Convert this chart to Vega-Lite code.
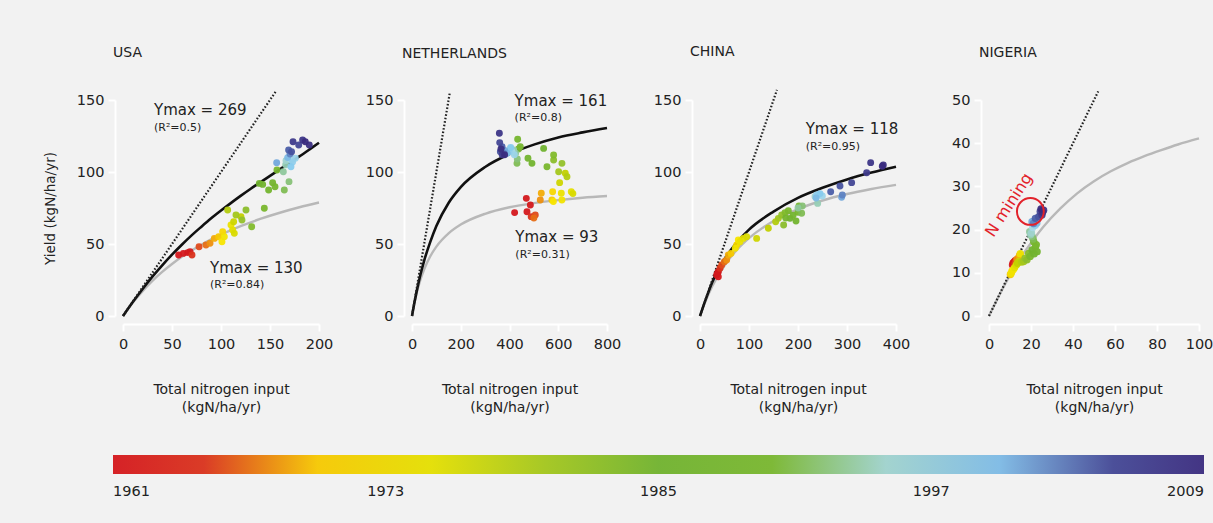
{
 "$schema": "https://vega.github.io/schema/vega-lite/v6.json",
 "background": "#f2f2f2",
 "padding": {"left": 42, "top": 44, "right": 0, "bottom": 30},
 "bounds": "flush",
 "spacing": 93,
 "resolve": {"scale": {"color": "shared", "x": "independent", "y": "independent"}, "legend": {"color": "shared"}},
 "datasets": {
  "d": [
   {"c":"USA","k":"point","year":1961,"n":56.8,"y":42.4},
   {"c":"USA","k":"point","year":1962,"n":61.6,"y":43.5},
   {"c":"USA","k":"point","year":1963,"n":66,"y":44},
   {"c":"USA","k":"point","year":1964,"n":68.4,"y":44.7},
   {"c":"USA","k":"point","year":1965,"n":70.4,"y":42.4},
   {"c":"USA","k":"point","year":1966,"n":77.6,"y":48.1},
   {"c":"USA","k":"point","year":1967,"n":84.7,"y":49.3},
   {"c":"USA","k":"point","year":1968,"n":88.8,"y":50.5},
   {"c":"USA","k":"point","year":1969,"n":93.2,"y":53.9},
   {"c":"USA","k":"point","year":1970,"n":97.6,"y":55},
   {"c":"USA","k":"point","year":1971,"n":101.7,"y":58.6},
   {"c":"USA","k":"point","year":1972,"n":101,"y":51.6},
   {"c":"USA","k":"point","year":1973,"n":103.4,"y":55.1},
   {"c":"USA","k":"point","year":1974,"n":110.2,"y":63.2},
   {"c":"USA","k":"point","year":1975,"n":111.9,"y":59.7},
   {"c":"USA","k":"point","year":1976,"n":113.6,"y":57.4},
   {"c":"USA","k":"point","year":1977,"n":112.9,"y":65.5},
   {"c":"USA","k":"point","year":1978,"n":120.4,"y":69},
   {"c":"USA","k":"point","year":1979,"n":106.8,"y":73.6},
   {"c":"USA","k":"point","year":1980,"n":115.3,"y":70.1},
   {"c":"USA","k":"point","year":1981,"n":121.4,"y":66.7},
   {"c":"USA","k":"point","year":1982,"n":125.5,"y":73.6},
   {"c":"USA","k":"point","year":1983,"n":131.3,"y":62},
   {"c":"USA","k":"point","year":1984,"n":144.2,"y":74.8},
   {"c":"USA","k":"point","year":1985,"n":139.1,"y":92.1},
   {"c":"USA","k":"point","year":1986,"n":142.5,"y":91.4},
   {"c":"USA","k":"point","year":1987,"n":148.6,"y":87.5},
   {"c":"USA","k":"point","year":1988,"n":152.7,"y":92.6},
   {"c":"USA","k":"point","year":1989,"n":155.1,"y":89.8},
   {"c":"USA","k":"point","year":1990,"n":157.1,"y":101.4},
   {"c":"USA","k":"point","year":1991,"n":164.6,"y":87.5},
   {"c":"USA","k":"point","year":1992,"n":169.4,"y":93.3},
   {"c":"USA","k":"point","year":1993,"n":163.6,"y":100.2},
   {"c":"USA","k":"point","year":1994,"n":166,"y":105},
   {"c":"USA","k":"point","year":1995,"n":166.3,"y":107.9},
   {"c":"USA","k":"point","year":1996,"n":171.4,"y":108.3},
   {"c":"USA","k":"point","year":1997,"n":175.9,"y":109.5},
   {"c":"USA","k":"point","year":1998,"n":173,"y":107},
   {"c":"USA","k":"point","year":1999,"n":171.4,"y":103.7},
   {"c":"USA","k":"point","year":2000,"n":168,"y":110},
   {"c":"USA","k":"point","year":2001,"n":156.8,"y":106.5},
   {"c":"USA","k":"point","year":2002,"n":170.4,"y":112.5},
   {"c":"USA","k":"point","year":2003,"n":169,"y":115.3},
   {"c":"USA","k":"point","year":2004,"n":172,"y":114},
   {"c":"USA","k":"point","year":2005,"n":179.3,"y":118.8},
   {"c":"USA","k":"point","year":2006,"n":173.5,"y":121},
   {"c":"USA","k":"point","year":2007,"n":183.3,"y":122.2},
   {"c":"USA","k":"point","year":2008,"n":190.1,"y":118.8},
   {"c":"USA","k":"point","year":2009,"n":186,"y":121},
   {"c":"USA","k":"upper","n":0,"y":0},{"c":"USA","k":"upper","n":10,"y":9.7},{"c":"USA","k":"upper","n":20,"y":18.8},{"c":"USA","k":"upper","n":30,"y":27.3},{"c":"USA","k":"upper","n":40,"y":35.2},{"c":"USA","k":"upper","n":50,"y":42.6},{"c":"USA","k":"upper","n":60,"y":49.5},{"c":"USA","k":"upper","n":70,"y":56},{"c":"USA","k":"upper","n":80,"y":62},{"c":"USA","k":"upper","n":90,"y":67.8},{"c":"USA","k":"upper","n":100,"y":73.2},{"c":"USA","k":"upper","n":110,"y":78.4},{"c":"USA","k":"upper","n":120,"y":83.4},{"c":"USA","k":"upper","n":130,"y":88.2},{"c":"USA","k":"upper","n":140,"y":92.8},{"c":"USA","k":"upper","n":150,"y":97.3},{"c":"USA","k":"upper","n":160,"y":101.8},{"c":"USA","k":"upper","n":170,"y":106.3},{"c":"USA","k":"upper","n":180,"y":110.8},{"c":"USA","k":"upper","n":190,"y":115.5},{"c":"USA","k":"upper","n":200,"y":120.3},
   {"c":"USA","k":"lower","n":0,"y":0},{"c":"USA","k":"lower","n":10,"y":9.3},{"c":"USA","k":"lower","n":20,"y":17.3},{"c":"USA","k":"lower","n":30,"y":24.4},{"c":"USA","k":"lower","n":40,"y":30.6},{"c":"USA","k":"lower","n":50,"y":36.1},{"c":"USA","k":"lower","n":60,"y":41.1},{"c":"USA","k":"lower","n":70,"y":45.5},{"c":"USA","k":"lower","n":80,"y":49.5},{"c":"USA","k":"lower","n":90,"y":53.2},{"c":"USA","k":"lower","n":100,"y":56.5},{"c":"USA","k":"lower","n":120,"y":62.4},{"c":"USA","k":"lower","n":140,"y":67.4},{"c":"USA","k":"lower","n":160,"y":71.7},{"c":"USA","k":"lower","n":180,"y":75.5},{"c":"USA","k":"lower","n":200,"y":78.8},
   {"c":"USA","k":"diag","n":0,"y":0},{"c":"USA","k":"diag","n":156,"y":156},
   {"c":"USA","k":"ymax","n":31.6,"y":139.6,"label":"Ymax = 269"},
   {"c":"USA","k":"r2","n":31.6,"y":128.5,"label":"(R²=0.5)"},
   {"c":"USA","k":"ymax","n":88.8,"y":30.1,"label":"Ymax = 130"},
   {"c":"USA","k":"r2","n":88.8,"y":19.2,"label":"(R²=0.84)"},

   {"c":"NL","k":"point","year":1961,"n":421,"y":71.8},
   {"c":"NL","k":"point","year":1962,"n":471.7,"y":72.4},
   {"c":"NL","k":"point","year":1963,"n":469,"y":81.7},
   {"c":"NL","k":"point","year":1964,"n":485.6,"y":77.1},
   {"c":"NL","k":"point","year":1965,"n":489,"y":69},
   {"c":"NL","k":"point","year":1966,"n":505.8,"y":70.1},
   {"c":"NL","k":"point","year":1967,"n":500,"y":68},
   {"c":"NL","k":"point","year":1968,"n":526.3,"y":80.6},
   {"c":"NL","k":"point","year":1969,"n":530.4,"y":85.2},
   {"c":"NL","k":"point","year":1970,"n":574,"y":80.6},
   {"c":"NL","k":"point","year":1971,"n":577,"y":86.3},
   {"c":"NL","k":"point","year":1972,"n":580,"y":79.5},
   {"c":"NL","k":"point","year":1973,"n":615,"y":80.6},
   {"c":"NL","k":"point","year":1974,"n":612.5,"y":85.2},
   {"c":"NL","k":"point","year":1975,"n":653.5,"y":86.3},
   {"c":"NL","k":"point","year":1976,"n":660,"y":85},
   {"c":"NL","k":"point","year":1977,"n":605.7,"y":92.6},
   {"c":"NL","k":"point","year":1978,"n":628.9,"y":99.1},
   {"c":"NL","k":"point","year":1979,"n":635.8,"y":96.7},
   {"c":"NL","k":"point","year":1980,"n":601.7,"y":100.2},
   {"c":"NL","k":"point","year":1981,"n":615.2,"y":106},
   {"c":"NL","k":"point","year":1982,"n":581,"y":108.3},
   {"c":"NL","k":"point","year":1983,"n":581,"y":111.8},
   {"c":"NL","k":"point","year":1984,"n":553.7,"y":103.7},
   {"c":"NL","k":"point","year":1985,"n":540,"y":116.4},
   {"c":"NL","k":"point","year":1986,"n":492.2,"y":106},
   {"c":"NL","k":"point","year":1987,"n":475.8,"y":109.5},
   {"c":"NL","k":"point","year":1988,"n":444.3,"y":117.6},
   {"c":"NL","k":"point","year":1989,"n":433.5,"y":122.7},
   {"c":"NL","k":"point","year":1990,"n":437,"y":116},
   {"c":"NL","k":"point","year":1991,"n":430.7,"y":106},
   {"c":"NL","k":"point","year":1992,"n":432,"y":109},
   {"c":"NL","k":"point","year":1993,"n":425,"y":113},
   {"c":"NL","k":"point","year":1994,"n":417,"y":115.3},
   {"c":"NL","k":"point","year":1995,"n":403.5,"y":116.4},
   {"c":"NL","k":"point","year":1996,"n":410,"y":114},
   {"c":"NL","k":"point","year":1997,"n":420,"y":112},
   {"c":"NL","k":"point","year":1998,"n":398,"y":114},
   {"c":"NL","k":"point","year":1999,"n":405,"y":117},
   {"c":"NL","k":"point","year":2000,"n":390,"y":113},
   {"c":"NL","k":"point","year":2001,"n":380,"y":115},
   {"c":"NL","k":"point","year":2002,"n":376,"y":113},
   {"c":"NL","k":"point","year":2003,"n":369.4,"y":117.6},
   {"c":"NL","k":"point","year":2004,"n":362.5,"y":114.1},
   {"c":"NL","k":"point","year":2005,"n":359.8,"y":120.4},
   {"c":"NL","k":"point","year":2006,"n":370,"y":112},
   {"c":"NL","k":"point","year":2007,"n":358.4,"y":126.9},
   {"c":"NL","k":"point","year":2008,"n":365,"y":116},
   {"c":"NL","k":"point","year":2009,"n":380,"y":112},
   {"c":"NL","k":"upper","n":0,"y":0},{"c":"NL","k":"upper","n":5,"y":4.8},{"c":"NL","k":"upper","n":10,"y":9.4},{"c":"NL","k":"upper","n":20,"y":17.8},{"c":"NL","k":"upper","n":35,"y":29},{"c":"NL","k":"upper","n":50,"y":38.5},{"c":"NL","k":"upper","n":75,"y":51.5},{"c":"NL","k":"upper","n":100,"y":62.5},{"c":"NL","k":"upper","n":150,"y":78.5},{"c":"NL","k":"upper","n":200,"y":89.5},{"c":"NL","k":"upper","n":300,"y":103.5},{"c":"NL","k":"upper","n":400,"y":112.5},{"c":"NL","k":"upper","n":500,"y":119},{"c":"NL","k":"upper","n":600,"y":124},{"c":"NL","k":"upper","n":700,"y":127.5},{"c":"NL","k":"upper","n":800,"y":130.5},
   {"c":"NL","k":"lower","n":0,"y":0},{"c":"NL","k":"lower","n":5,"y":4.7},{"c":"NL","k":"lower","n":10,"y":9},{"c":"NL","k":"lower","n":20,"y":16.5},{"c":"NL","k":"lower","n":35,"y":25.4},{"c":"NL","k":"lower","n":50,"y":32.5},{"c":"NL","k":"lower","n":75,"y":41.5},{"c":"NL","k":"lower","n":100,"y":48.2},{"c":"NL","k":"lower","n":150,"y":57.4},{"c":"NL","k":"lower","n":200,"y":63.5},{"c":"NL","k":"lower","n":300,"y":71},{"c":"NL","k":"lower","n":400,"y":75.5},{"c":"NL","k":"lower","n":500,"y":78.4},{"c":"NL","k":"lower","n":600,"y":80.5},{"c":"NL","k":"lower","n":700,"y":82.1},{"c":"NL","k":"lower","n":800,"y":83.3},
   {"c":"NL","k":"diag","n":0,"y":0},{"c":"NL","k":"diag","n":155,"y":155},
   {"c":"NL","k":"ymax","n":421,"y":146,"label":"Ymax = 161"},
   {"c":"NL","k":"r2","n":421,"y":135.4,"label":"(R²=0.8)"},
   {"c":"NL","k":"ymax","n":424,"y":51.2,"label":"Ymax = 93"},
   {"c":"NL","k":"r2","n":424,"y":40,"label":"(R²=0.31)"},

   {"c":"CN","k":"point","year":1961,"n":34,"y":28.5},
   {"c":"CN","k":"point","year":1962,"n":37.4,"y":27.3},
   {"c":"CN","k":"point","year":1963,"n":36,"y":30},
   {"c":"CN","k":"point","year":1964,"n":37.4,"y":30.8},
   {"c":"CN","k":"point","year":1965,"n":40.8,"y":33.1},
   {"c":"CN","k":"point","year":1966,"n":44.2,"y":35.4},
   {"c":"CN","k":"point","year":1967,"n":49.7,"y":37.7},
   {"c":"CN","k":"point","year":1968,"n":54.4,"y":38.9},
   {"c":"CN","k":"point","year":1969,"n":57.8,"y":42.4},
   {"c":"CN","k":"point","year":1970,"n":63.3,"y":43.5},
   {"c":"CN","k":"point","year":1971,"n":74.8,"y":49.3},
   {"c":"CN","k":"point","year":1972,"n":78.2,"y":52.8},
   {"c":"CN","k":"point","year":1973,"n":72,"y":47},
   {"c":"CN","k":"point","year":1974,"n":81.6,"y":51.6},
   {"c":"CN","k":"point","year":1975,"n":88.4,"y":53.9},
   {"c":"CN","k":"point","year":1976,"n":95.2,"y":55.1},
   {"c":"CN","k":"point","year":1977,"n":115.6,"y":53.9},
   {"c":"CN","k":"point","year":1978,"n":139.5,"y":60.9},
   {"c":"CN","k":"point","year":1979,"n":154.4,"y":65.5},
   {"c":"CN","k":"point","year":1980,"n":159.9,"y":67.8},
   {"c":"CN","k":"point","year":1981,"n":166.7,"y":70.1},
   {"c":"CN","k":"point","year":1982,"n":170.7,"y":63.2},
   {"c":"CN","k":"point","year":1983,"n":173.5,"y":71.8},
   {"c":"CN","k":"point","year":1984,"n":180.3,"y":73.1},
   {"c":"CN","k":"point","year":1985,"n":183.7,"y":67.8},
   {"c":"CN","k":"point","year":1986,"n":195.9,"y":66},
   {"c":"CN","k":"point","year":1987,"n":190,"y":70},
   {"c":"CN","k":"point","year":1988,"n":175,"y":68},
   {"c":"CN","k":"point","year":1989,"n":200,"y":72},
   {"c":"CN","k":"point","year":1990,"n":202,"y":76.4},
   {"c":"CN","k":"point","year":1991,"n":207.5,"y":71.3},
   {"c":"CN","k":"point","year":1992,"n":208.8,"y":76.4},
   {"c":"CN","k":"point","year":1993,"n":200,"y":75},
   {"c":"CN","k":"point","year":1994,"n":240.1,"y":78.2},
   {"c":"CN","k":"point","year":1995,"n":234.7,"y":82.9},
   {"c":"CN","k":"point","year":1996,"n":241.5,"y":84},
   {"c":"CN","k":"point","year":1997,"n":249.7,"y":83.3},
   {"c":"CN","k":"point","year":1998,"n":238,"y":84},
   {"c":"CN","k":"point","year":1999,"n":245,"y":85},
   {"c":"CN","k":"point","year":2000,"n":237,"y":82},
   {"c":"CN","k":"point","year":2001,"n":289,"y":82.4},
   {"c":"CN","k":"point","year":2002,"n":290.5,"y":84},
   {"c":"CN","k":"point","year":2003,"n":266.7,"y":86.3},
   {"c":"CN","k":"point","year":2004,"n":285.7,"y":90.3},
   {"c":"CN","k":"point","year":2005,"n":309.5,"y":92.6},
   {"c":"CN","k":"point","year":2006,"n":340.1,"y":99.5},
   {"c":"CN","k":"point","year":2007,"n":348.3,"y":106.5},
   {"c":"CN","k":"point","year":2008,"n":374.1,"y":104.9},
   {"c":"CN","k":"point","year":2009,"n":372,"y":104},
   {"c":"CN","k":"upper","n":0,"y":0},{"c":"CN","k":"upper","n":10,"y":10},{"c":"CN","k":"upper","n":25,"y":23.5},{"c":"CN","k":"upper","n":50,"y":39.5},{"c":"CN","k":"upper","n":75,"y":51},{"c":"CN","k":"upper","n":100,"y":60},{"c":"CN","k":"upper","n":150,"y":72.5},{"c":"CN","k":"upper","n":200,"y":82},{"c":"CN","k":"upper","n":250,"y":89},{"c":"CN","k":"upper","n":300,"y":94.8},{"c":"CN","k":"upper","n":350,"y":99.6},{"c":"CN","k":"upper","n":400,"y":103.7},
   {"c":"CN","k":"lower","n":0,"y":0},{"c":"CN","k":"lower","n":10,"y":9.2},{"c":"CN","k":"lower","n":25,"y":20.6},{"c":"CN","k":"lower","n":50,"y":35.1},{"c":"CN","k":"lower","n":75,"y":45.9},{"c":"CN","k":"lower","n":100,"y":54.1},{"c":"CN","k":"lower","n":150,"y":66},{"c":"CN","k":"lower","n":200,"y":74.2},{"c":"CN","k":"lower","n":250,"y":80.2},{"c":"CN","k":"lower","n":300,"y":84.7},{"c":"CN","k":"lower","n":350,"y":88.2},{"c":"CN","k":"lower","n":400,"y":91.1},
   {"c":"CN","k":"diag","n":0,"y":0},{"c":"CN","k":"diag","n":157,"y":157},
   {"c":"CN","k":"ymax","n":215.7,"y":126.4,"label":"Ymax = 118"},
   {"c":"CN","k":"r2","n":215.7,"y":115.3,"label":"(R²=0.95)"},

   {"c":"NG","k":"point","year":1961,"n":11.5,"y":12.3},
   {"c":"NG","k":"point","year":1962,"n":12,"y":12.5},
   {"c":"NG","k":"point","year":1963,"n":11.2,"y":11.8},
   {"c":"NG","k":"point","year":1964,"n":12.5,"y":12.8},
   {"c":"NG","k":"point","year":1965,"n":12.2,"y":12},
   {"c":"NG","k":"point","year":1966,"n":12.8,"y":12.5},
   {"c":"NG","k":"point","year":1967,"n":13.2,"y":13},
   {"c":"NG","k":"point","year":1968,"n":13.5,"y":13.2},
   {"c":"NG","k":"point","year":1969,"n":14.5,"y":14},
   {"c":"NG","k":"point","year":1970,"n":10.2,"y":9.6},
   {"c":"NG","k":"point","year":1971,"n":11,"y":10.4},
   {"c":"NG","k":"point","year":1972,"n":11.7,"y":10.8},
   {"c":"NG","k":"point","year":1973,"n":10.6,"y":9.9},
   {"c":"NG","k":"point","year":1974,"n":14.9,"y":14.4},
   {"c":"NG","k":"point","year":1975,"n":12.2,"y":11.2},
   {"c":"NG","k":"point","year":1976,"n":13,"y":11.8},
   {"c":"NG","k":"point","year":1977,"n":14.1,"y":12.6},
   {"c":"NG","k":"point","year":1978,"n":13.6,"y":12.2},
   {"c":"NG","k":"point","year":1979,"n":15.5,"y":12.5},
   {"c":"NG","k":"point","year":1980,"n":16.5,"y":12.6},
   {"c":"NG","k":"point","year":1981,"n":17.2,"y":13.4},
   {"c":"NG","k":"point","year":1982,"n":18.1,"y":13},
   {"c":"NG","k":"point","year":1983,"n":18.9,"y":14.5},
   {"c":"NG","k":"point","year":1984,"n":19.6,"y":13.8},
   {"c":"NG","k":"point","year":1985,"n":20.5,"y":15.3},
   {"c":"NG","k":"point","year":1986,"n":21.5,"y":14.4},
   {"c":"NG","k":"point","year":1987,"n":22.9,"y":14.9},
   {"c":"NG","k":"point","year":1988,"n":22.1,"y":16},
   {"c":"NG","k":"point","year":1989,"n":21.3,"y":17.2},
   {"c":"NG","k":"point","year":1990,"n":22.5,"y":16.5},
   {"c":"NG","k":"point","year":1991,"n":21,"y":17.8},
   {"c":"NG","k":"point","year":1992,"n":20.5,"y":18.4},
   {"c":"NG","k":"point","year":1993,"n":19.4,"y":19.5},
   {"c":"NG","k":"point","year":1994,"n":19.8,"y":18.8},
   {"c":"NG","k":"point","year":1995,"n":20.2,"y":19.2},
   {"c":"NG","k":"point","year":1996,"n":20.8,"y":20.5},
   {"c":"NG","k":"point","year":1997,"n":21.3,"y":21.8},
   {"c":"NG","k":"point","year":1998,"n":22,"y":21},
   {"c":"NG","k":"point","year":1999,"n":23.3,"y":22.6},
   {"c":"NG","k":"point","year":2000,"n":22.8,"y":21.5},
   {"c":"NG","k":"point","year":2001,"n":20.5,"y":21.8},
   {"c":"NG","k":"point","year":2002,"n":21.2,"y":21.4},
   {"c":"NG","k":"point","year":2003,"n":22.1,"y":22.6},
   {"c":"NG","k":"point","year":2004,"n":23.7,"y":23},
   {"c":"NG","k":"point","year":2005,"n":24.4,"y":24.2},
   {"c":"NG","k":"point","year":2006,"n":25.2,"y":23.4},
   {"c":"NG","k":"point","year":2007,"n":26,"y":24.5},
   {"c":"NG","k":"point","year":2008,"n":25.5,"y":24},
   {"c":"NG","k":"point","year":2009,"n":24.8,"y":24.8},
   {"c":"NG","k":"lower","n":0,"y":0},{"c":"NG","k":"lower","n":7,"y":6.8},{"c":"NG","k":"lower","n":13.3,"y":12.2},{"c":"NG","k":"lower","n":20,"y":16.9},{"c":"NG","k":"lower","n":26,"y":20.7},{"c":"NG","k":"lower","n":34,"y":24.9},{"c":"NG","k":"lower","n":42,"y":28.4},{"c":"NG","k":"lower","n":50,"y":31.2},{"c":"NG","k":"lower","n":58,"y":33.5},{"c":"NG","k":"lower","n":66,"y":35.4},{"c":"NG","k":"lower","n":74,"y":37},{"c":"NG","k":"lower","n":82,"y":38.4},{"c":"NG","k":"lower","n":90,"y":39.7},{"c":"NG","k":"lower","n":100,"y":41.1},
   {"c":"NG","k":"diag","n":0,"y":0},{"c":"NG","k":"diag","n":52,"y":52},
   {"c":"NG","k":"ring","n":19.7,"y":24.2},
   {"c":"NG","k":"note","n":9.5,"y":25.7,"label":"N mining"}
  ]
 },
 "hconcat": [
  {
   "width": 196, "height": 216,
   "title": "USA",
   "data": {"name": "d"},
   "transform": [{"filter": "datum.c === 'USA'"}],
   "encoding": {
    "x": {"field": "n", "type": "quantitative", "scale": {"domain": [0, 200], "nice": false, "zero": false}, "axis": {"values": [0, 50, 100, 150, 200], "title": ["Total nitrogen input", "(kgN/ha/yr)"]}},
    "y": {"field": "y", "type": "quantitative", "scale": {"domain": [0, 150], "nice": false, "zero": false}, "axis": {"values": [0, 50, 100, 150], "title": "Yield (kgN/ha/yr)", "titleX": -61, "titleBaseline": "alphabetic"}}
   },
   "layer": [
    {"transform": [{"filter": "datum.k === 'lower'"}], "mark": {"type": "line", "color": "#b8b8b8", "strokeWidth": 2.4, "interpolate": "monotone"}, "encoding": {}},
    {"transform": [{"filter": "datum.k === 'upper'"}], "mark": {"type": "line", "color": "#111111", "strokeWidth": 2.6, "interpolate": "monotone"}, "encoding": {}},
    {"transform": [{"filter": "datum.k === 'diag'"}], "mark": {"type": "line", "color": "#222222", "strokeWidth": 2.2, "strokeDash": [1.6, 1.9]}, "encoding": {}},
    {"transform": [{"filter": "datum.k === 'point'"}], "mark": {"type": "circle", "size": 48, "opacity": 0.95},
     "encoding": {"color": {"field": "year", "type": "quantitative",
      "scale": {"domain": [1961, 1964, 1966, 1968, 1970, 1972, 1975, 1978, 1981, 1985, 1990, 1993, 1996, 1999, 2001, 2003, 2006, 2009], "range": ["#d4171c", "#d3191c", "#df4a1b", "#ed8f0f", "#f6c800", "#f8e500", "#e4df00", "#c2d000", "#94c12a", "#70b22e", "#78b62e", "#8fc79c", "#a7d8e6", "#87cbee", "#73a8db", "#4b5ea8", "#3f3b8b", "#3a2b7e"], "interpolate": "rgb"},
      "legend": {"orient": "none", "legendX": -10, "legendY": 355, "direction": "horizontal", "title": null, "values": [1961, 1973, 1985, 1997, 2009], "format": "d", "gradientLength": 1091, "gradientThickness": 19, "labelOffset": 11}}}},
    {"transform": [{"filter": "datum.k === 'ymax'"}], "mark": {"type": "text", "align": "left", "baseline": "alphabetic", "fontSize": 15, "color": "#222222"}, "encoding": {"text": {"field": "label"}}},
    {"transform": [{"filter": "datum.k === 'r2'"}], "mark": {"type": "text", "align": "left", "baseline": "alphabetic", "fontSize": 11, "color": "#222222"}, "encoding": {"text": {"field": "label"}}}
   ]
  },
  {
   "width": 195, "height": 216,
   "title": "NETHERLANDS",
   "data": {"name": "d"},
   "transform": [{"filter": "datum.c === 'NL'"}],
   "encoding": {
    "x": {"field": "n", "type": "quantitative", "scale": {"domain": [0, 800], "nice": false, "zero": false}, "axis": {"values": [0, 200, 400, 600, 800], "title": ["Total nitrogen input", "(kgN/ha/yr)"]}},
    "y": {"field": "y", "type": "quantitative", "scale": {"domain": [0, 150], "nice": false, "zero": false}, "axis": {"values": [0, 50, 100, 150], "title": null}}
   },
   "layer": [
    {"transform": [{"filter": "datum.k === 'lower'"}], "mark": {"type": "line", "color": "#b8b8b8", "strokeWidth": 2.4, "interpolate": "monotone"}, "encoding": {}},
    {"transform": [{"filter": "datum.k === 'upper'"}], "mark": {"type": "line", "color": "#111111", "strokeWidth": 2.6, "interpolate": "monotone"}, "encoding": {}},
    {"transform": [{"filter": "datum.k === 'diag'"}], "mark": {"type": "line", "color": "#222222", "strokeWidth": 2.2, "strokeDash": [1.6, 1.9]}, "encoding": {}},
    {"transform": [{"filter": "datum.k === 'point'"}], "mark": {"type": "circle", "size": 48, "opacity": 0.95},
     "encoding": {"color": {"field": "year", "type": "quantitative",
      "scale": {"domain": [1961, 1964, 1966, 1968, 1970, 1972, 1975, 1978, 1981, 1985, 1990, 1993, 1996, 1999, 2001, 2003, 2006, 2009], "range": ["#d4171c", "#d3191c", "#df4a1b", "#ed8f0f", "#f6c800", "#f8e500", "#e4df00", "#c2d000", "#94c12a", "#70b22e", "#78b62e", "#8fc79c", "#a7d8e6", "#87cbee", "#73a8db", "#4b5ea8", "#3f3b8b", "#3a2b7e"], "interpolate": "rgb"},
      "legend": {"orient": "none", "legendX": -10, "legendY": 355, "direction": "horizontal", "title": null, "values": [1961, 1973, 1985, 1997, 2009], "format": "d", "gradientLength": 1091, "gradientThickness": 19, "labelOffset": 11}}}},
    {"transform": [{"filter": "datum.k === 'ymax'"}], "mark": {"type": "text", "align": "left", "baseline": "alphabetic", "fontSize": 15, "color": "#222222"}, "encoding": {"text": {"field": "label"}}},
    {"transform": [{"filter": "datum.k === 'r2'"}], "mark": {"type": "text", "align": "left", "baseline": "alphabetic", "fontSize": 11, "color": "#222222"}, "encoding": {"text": {"field": "label"}}}
   ]
  },
  {
   "width": 196, "height": 216,
   "title": "CHINA",
   "data": {"name": "d"},
   "transform": [{"filter": "datum.c === 'CN'"}],
   "encoding": {
    "x": {"field": "n", "type": "quantitative", "scale": {"domain": [0, 400], "nice": false, "zero": false}, "axis": {"values": [0, 100, 200, 300, 400], "title": ["Total nitrogen input", "(kgN/ha/yr)"]}},
    "y": {"field": "y", "type": "quantitative", "scale": {"domain": [0, 150], "nice": false, "zero": false}, "axis": {"values": [0, 50, 100, 150], "title": null}}
   },
   "layer": [
    {"transform": [{"filter": "datum.k === 'lower'"}], "mark": {"type": "line", "color": "#b8b8b8", "strokeWidth": 2.4, "interpolate": "monotone"}, "encoding": {}},
    {"transform": [{"filter": "datum.k === 'upper'"}], "mark": {"type": "line", "color": "#111111", "strokeWidth": 2.6, "interpolate": "monotone"}, "encoding": {}},
    {"transform": [{"filter": "datum.k === 'diag'"}], "mark": {"type": "line", "color": "#222222", "strokeWidth": 2.2, "strokeDash": [1.6, 1.9]}, "encoding": {}},
    {"transform": [{"filter": "datum.k === 'point'"}], "mark": {"type": "circle", "size": 48, "opacity": 0.95},
     "encoding": {"color": {"field": "year", "type": "quantitative",
      "scale": {"domain": [1961, 1964, 1966, 1968, 1970, 1972, 1975, 1978, 1981, 1985, 1990, 1993, 1996, 1999, 2001, 2003, 2006, 2009], "range": ["#d4171c", "#d3191c", "#df4a1b", "#ed8f0f", "#f6c800", "#f8e500", "#e4df00", "#c2d000", "#94c12a", "#70b22e", "#78b62e", "#8fc79c", "#a7d8e6", "#87cbee", "#73a8db", "#4b5ea8", "#3f3b8b", "#3a2b7e"], "interpolate": "rgb"},
      "legend": {"orient": "none", "legendX": -10, "legendY": 355, "direction": "horizontal", "title": null, "values": [1961, 1973, 1985, 1997, 2009], "format": "d", "gradientLength": 1091, "gradientThickness": 19, "labelOffset": 11}}}},
    {"transform": [{"filter": "datum.k === 'ymax'"}], "mark": {"type": "text", "align": "left", "baseline": "alphabetic", "fontSize": 15, "color": "#222222"}, "encoding": {"text": {"field": "label"}}},
    {"transform": [{"filter": "datum.k === 'r2'"}], "mark": {"type": "text", "align": "left", "baseline": "alphabetic", "fontSize": 11, "color": "#222222"}, "encoding": {"text": {"field": "label"}}}
   ]
  },
  {
   "width": 210, "height": 216,
   "title": "NIGERIA",
   "data": {"name": "d"},
   "transform": [{"filter": "datum.c === 'NG'"}],
   "encoding": {
    "x": {"field": "n", "type": "quantitative", "scale": {"domain": [0, 100], "nice": false, "zero": false}, "axis": {"values": [0, 20, 40, 60, 80, 100], "title": ["Total nitrogen input", "(kgN/ha/yr)"]}},
    "y": {"field": "y", "type": "quantitative", "scale": {"domain": [0, 50], "nice": false, "zero": false}, "axis": {"values": [0, 10, 20, 30, 40, 50], "title": null}}
   },
   "layer": [
    {"transform": [{"filter": "datum.k === 'lower'"}], "mark": {"type": "line", "color": "#b8b8b8", "strokeWidth": 2.4, "interpolate": "monotone"}, "encoding": {}},
    {"transform": [{"filter": "datum.k === 'diag'"}], "mark": {"type": "line", "color": "#222222", "strokeWidth": 2.2, "strokeDash": [1.6, 1.9]}, "encoding": {}},
    {"transform": [{"filter": "datum.k === 'point'"}], "mark": {"type": "circle", "size": 55, "opacity": 0.95},
     "encoding": {"color": {"field": "year", "type": "quantitative",
      "scale": {"domain": [1961, 1964, 1966, 1968, 1970, 1972, 1975, 1978, 1981, 1985, 1990, 1993, 1996, 1999, 2001, 2003, 2006, 2009], "range": ["#d4171c", "#d3191c", "#df4a1b", "#ed8f0f", "#f6c800", "#f8e500", "#e4df00", "#c2d000", "#94c12a", "#70b22e", "#78b62e", "#8fc79c", "#a7d8e6", "#87cbee", "#73a8db", "#4b5ea8", "#3f3b8b", "#3a2b7e"], "interpolate": "rgb"},
      "legend": {"orient": "none", "legendX": -10, "legendY": 355, "direction": "horizontal", "title": null, "values": [1961, 1973, 1985, 1997, 2009], "format": "d", "gradientLength": 1091, "gradientThickness": 19, "labelOffset": 11}}}},
    {"transform": [{"filter": "datum.k === 'ring'"}], "mark": {"type": "point", "shape": "circle", "filled": false, "size": 720, "color": "#e2222b", "strokeWidth": 2, "opacity": 1}},
    {"transform": [{"filter": "datum.k === 'note'"}], "mark": {"type": "text", "align": "center", "baseline": "middle", "angle": 303, "fontSize": 16, "color": "#e2222b"}, "encoding": {"text": {"field": "label"}}}
   ]
  }
 ],
 "config": {
  "font": "DejaVu Sans",
  "view": {"stroke": null},
  "axis": {"domainColor": "#ffffff", "domainWidth": 2, "tickColor": "#ffffff", "tickWidth": 2, "tickSize": 7, "offset": 8, "labelFont": "DejaVu Sans", "labelFontSize": 14.5, "labelColor": "#222222", "labelPadding": 4, "grid": false, "labelFlush": false, "titleFont": "DejaVu Sans", "titleFontSize": 13.5, "titleFontWeight": "normal", "titleColor": "#222222"},
  "axisX": {"titleFontSize": 14, "titleLineHeight": 18, "titlePadding": 32, "labelPadding": 6},
  "title": {"anchor": "start", "frame": "group", "dx": -10, "font": "DejaVu Sans", "fontSize": 14, "fontWeight": "normal", "color": "#222222", "offset": 27, "baseline": "alphabetic"},
  "legend": {"labelFont": "DejaVu Sans", "labelFontSize": 14.5, "labelColor": "#222222", "gradientStrokeWidth": 0}
 }
}
